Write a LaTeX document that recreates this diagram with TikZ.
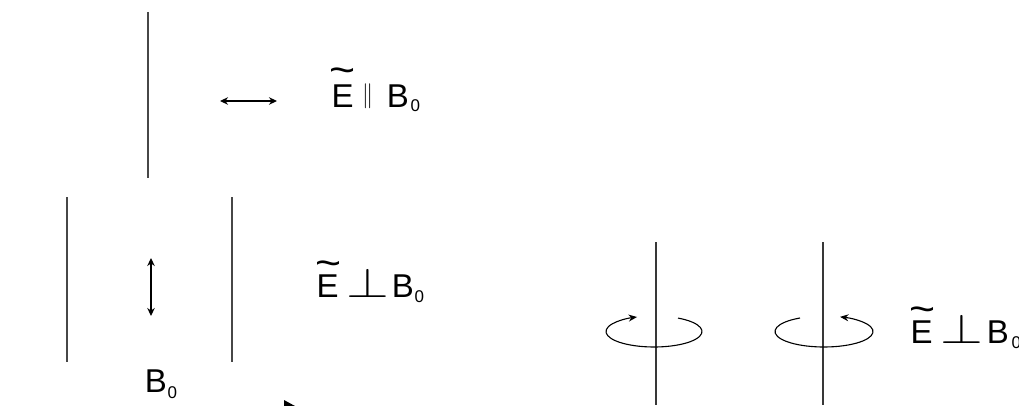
\documentclass[tikz,border=0pt]{standalone}
\usepackage{fontspec}
\setmainfont{Liberation Sans}
\usetikzlibrary{arrows.meta}
\begin{document}
\begin{tikzpicture}[x=1pt,y=1pt,
  axisline/.style={line width=1.7pt, draw=black!72},
  thinaxis/.style={line width=1.2pt, draw=black!78},
  dblarrow/.style={line width=1.2pt, {Stealth[length=8pt,width=7.5pt]}-{Stealth[length=8pt,width=7.5pt]}},
  rotarrow/.style={line width=1.1pt, -{Stealth[length=8.5pt,width=7pt]}},
  lbl/.style={inner sep=0pt, font=\fontsize{33}{33}\selectfont, anchor=base west},
  sublbl/.style={inner sep=0pt, font=\fontsize{17}{17}\selectfont, anchor=base west},
  tld/.style={inner sep=0pt, font=\fontsize{33}{33}\selectfont, anchor=center},
  parsym/.style={inner sep=0pt, anchor=center},
  perpsym/.style={inner sep=0pt, anchor=base},
]
\useasboundingbox (0,0) rectangle (1019,405);
\begin{scope}
\clip (0,0) rectangle (1019,405);

% vertical field lines
\coordinate (l1t) at (148,393); \coordinate (l1b) at (148,227);
\coordinate (l2t) at (67,208);  \coordinate (l2b) at (67,43);
\coordinate (l3t) at (232,208); \coordinate (l3b) at (232,43);
\coordinate (l4t) at (656,163); \coordinate (l4b) at (656,0);
\coordinate (l5t) at (823,163); \coordinate (l5b) at (823,0);
\draw[axisline] (l1t) -- (l1b);
\draw[axisline] (l2t) -- (l2b);
\draw[axisline] (l3t) -- (l3b);
\draw[thinaxis] (l4t) -- (l4b);
\draw[thinaxis] (l5t) -- (l5b);

% double arrows
\coordinate (h1) at (220,304); \coordinate (h2) at (277,304);
\draw[dblarrow] (h1) -- (h2);
\coordinate (v1) at (151,147); \coordinate (v2) at (151,89);
\draw[dblarrow] (v1) -- (v2);

% rotating arrows
\coordinate (c1) at (654,73.5);
\coordinate (c2) at (824,73.5);
\draw[rotarrow] ([shift={(60:48 and 15.5)}]c1) arc[start angle=60, end angle=-249.3, x radius=48, y radius=15.5];
\draw[rotarrow] ([shift={(119.3:49 and 15.5)}]c2) arc[start angle=119.3, end angle=430.9, x radius=49, y radius=15.5];

% arrow tip fragment at bottom edge
\fill (284,5) -- (295,-1) -- (284,-6) -- cycle;

% label 1: E tilde parallel B0
\node[lbl] (e1) at (331.4,298) {E};
\node[tld] (t1) at (343,329.5) {\scalebox{1.35}[1.2]{\textasciitilde}};
\node[parsym] (p1) at (367.5,309) {\scalebox{2.2}[2.5]{$\parallel$}};
\node[lbl] (b1) at (386.6,298) {B};
\node[sublbl] (s1) at (410.3,293) {0};

% label 2: E tilde perp B0
\node[lbl] (e2) at (316.4,108) {E};
\node[tld] (t2) at (328.5,136.5) {\scalebox{1.35}[1.2]{\textasciitilde}};
\node[perpsym] (p2) at (367.5,108) {\scalebox{5.5}[4.2]{$\perp$}};
\node[lbl] (b2) at (391.6,108) {B};
\node[sublbl] (s2) at (414.3,103) {0};

% label 3: E tilde perp B0 (right)
\node[lbl] (e3) at (910.4,62) {E};
\node[tld] (t3) at (922.5,90.5) {\scalebox{1.35}[1.2]{\textasciitilde}};
\node[perpsym] (p3) at (961.5,62) {\scalebox{5.5}[4.2]{$\perp$}};
\node[lbl] (b3) at (986.6,62) {B};
\node[sublbl] (s3) at (1011.3,57) {0};

% label B0 at bottom
\node[lbl] (b4) at (144.6,13) {B};
\node[sublbl] (s4) at (167.3,7) {0};
\end{scope}
\end{tikzpicture}
\end{document}
